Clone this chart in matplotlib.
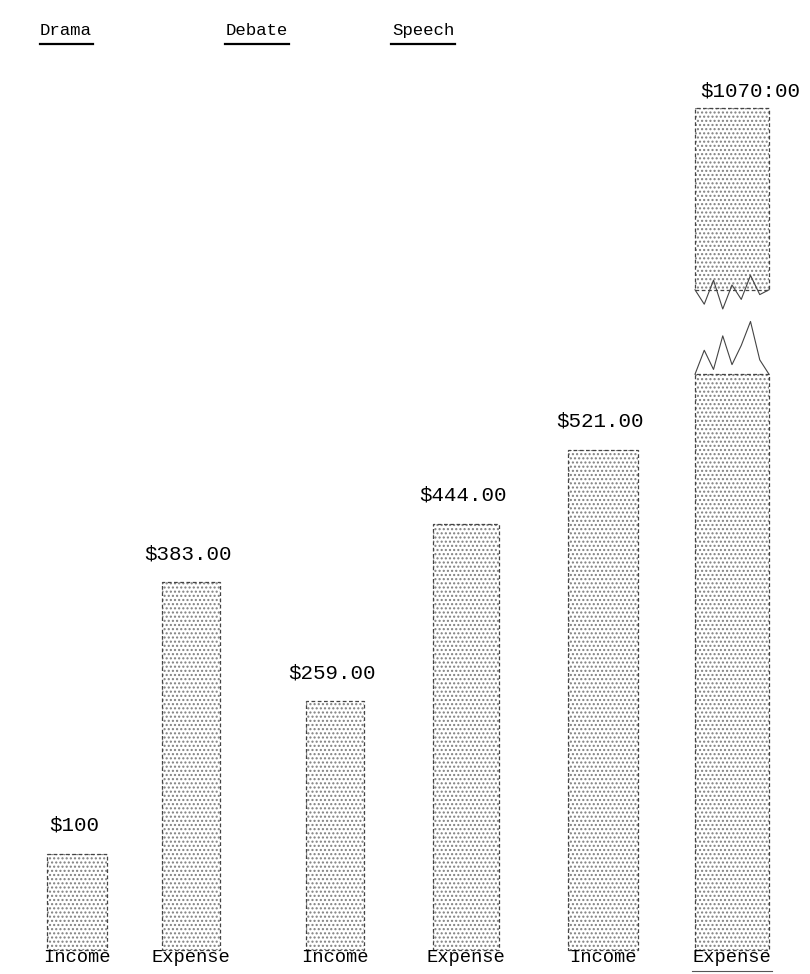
import numpy as np
import matplotlib.pyplot as plt

# values in dollars
groups = ["Drama", "Debate", "Speech"]
bar_labels = ["Income", "Expense", "Income", "Expense", "Income", "Expense"]
amounts = [100, 383, 259, 444, 521, 1070]
amount_text = ["$100", "$383.00", "$259.00", "$444.00", "$521.00", "$1070:00"]

# layout (pixel-ish units across, dollars up)
x_pos = [77, 191, 335, 466, 603, 732]
widths = [60, 58, 58, 66, 70, 74]
group_x = [66, 257, 423]
CUT_LOW = 600      # top of the lower piece of the broken bar
CUT_HIGH = 688     # where the upper piece restarts on the page
SKIP = 193         # dollars left out of the broken bar
MONO = "Liberation Mono"

fig = plt.figure(figsize=(8.1, 9.74), dpi=100)
ax = fig.add_axes([0, 0, 1, 1])
ax.set_xlim(0, 810)
ax.set_ylim(-25, 990)
ax.axis("off")

def stipple_bar(x, w, bottom, height):
    ax.bar(x, height, w, bottom=bottom, color="white", edgecolor="#808080",
           hatch="....", linewidth=0)
    ax.bar(x, height, w, bottom=bottom, fill=False, edgecolor="#444444",
           linewidth=0.9, linestyle=(0, (3, 2)))

for i, v in enumerate(amounts):
    x, w = x_pos[i], widths[i]
    if v > CUT_LOW:
        # broken bar: lower part, then the top piece shifted down
        shown_top = v - SKIP
        stipple_bar(x, w, 0, CUT_LOW)
        stipple_bar(x, w, CUT_HIGH, shown_top - CUT_HIGH)
        xs = np.linspace(x - w / 2, x + w / 2, 9)
        lo = CUT_LOW + np.array([0, 25, 5, 40, 10, 30, 55, 15, 0])
        hi = CUT_HIGH + np.array([0, -15, 10, -20, 5, -10, 15, -5, 0])
        ax.plot(xs, lo, color="#444444", lw=0.8)
        ax.plot(xs, hi, color="#444444", lw=0.8)
        ax.text(x + 18, shown_top + 8, amount_text[i], ha="center", va="bottom",
                family=MONO, fontsize=15)
    else:
        stipple_bar(x, w, 0, v)
        ax.text(x - 3, v + 20, amount_text[i], ha="center", va="bottom",
                family=MONO, fontsize=15)
    ax.text(x, -8, bar_labels[i], ha="center", va="center",
            family=MONO, fontsize=13.5)

# underline under the last label, as typed
ax.plot([x_pos[-1] - 40, x_pos[-1] + 40], [-22, -22], color="#555555", lw=0.8)

for gx, g in zip(group_x, groups):
    ax.text(gx, 958, g, ha="center", va="center", family=MONO, fontsize=12.5)
    half = len(g) * 5.3
    ax.plot([gx - half, gx + half], [944, 944], color="black", lw=1.6)

fig.savefig("out.png", dpi=100)
